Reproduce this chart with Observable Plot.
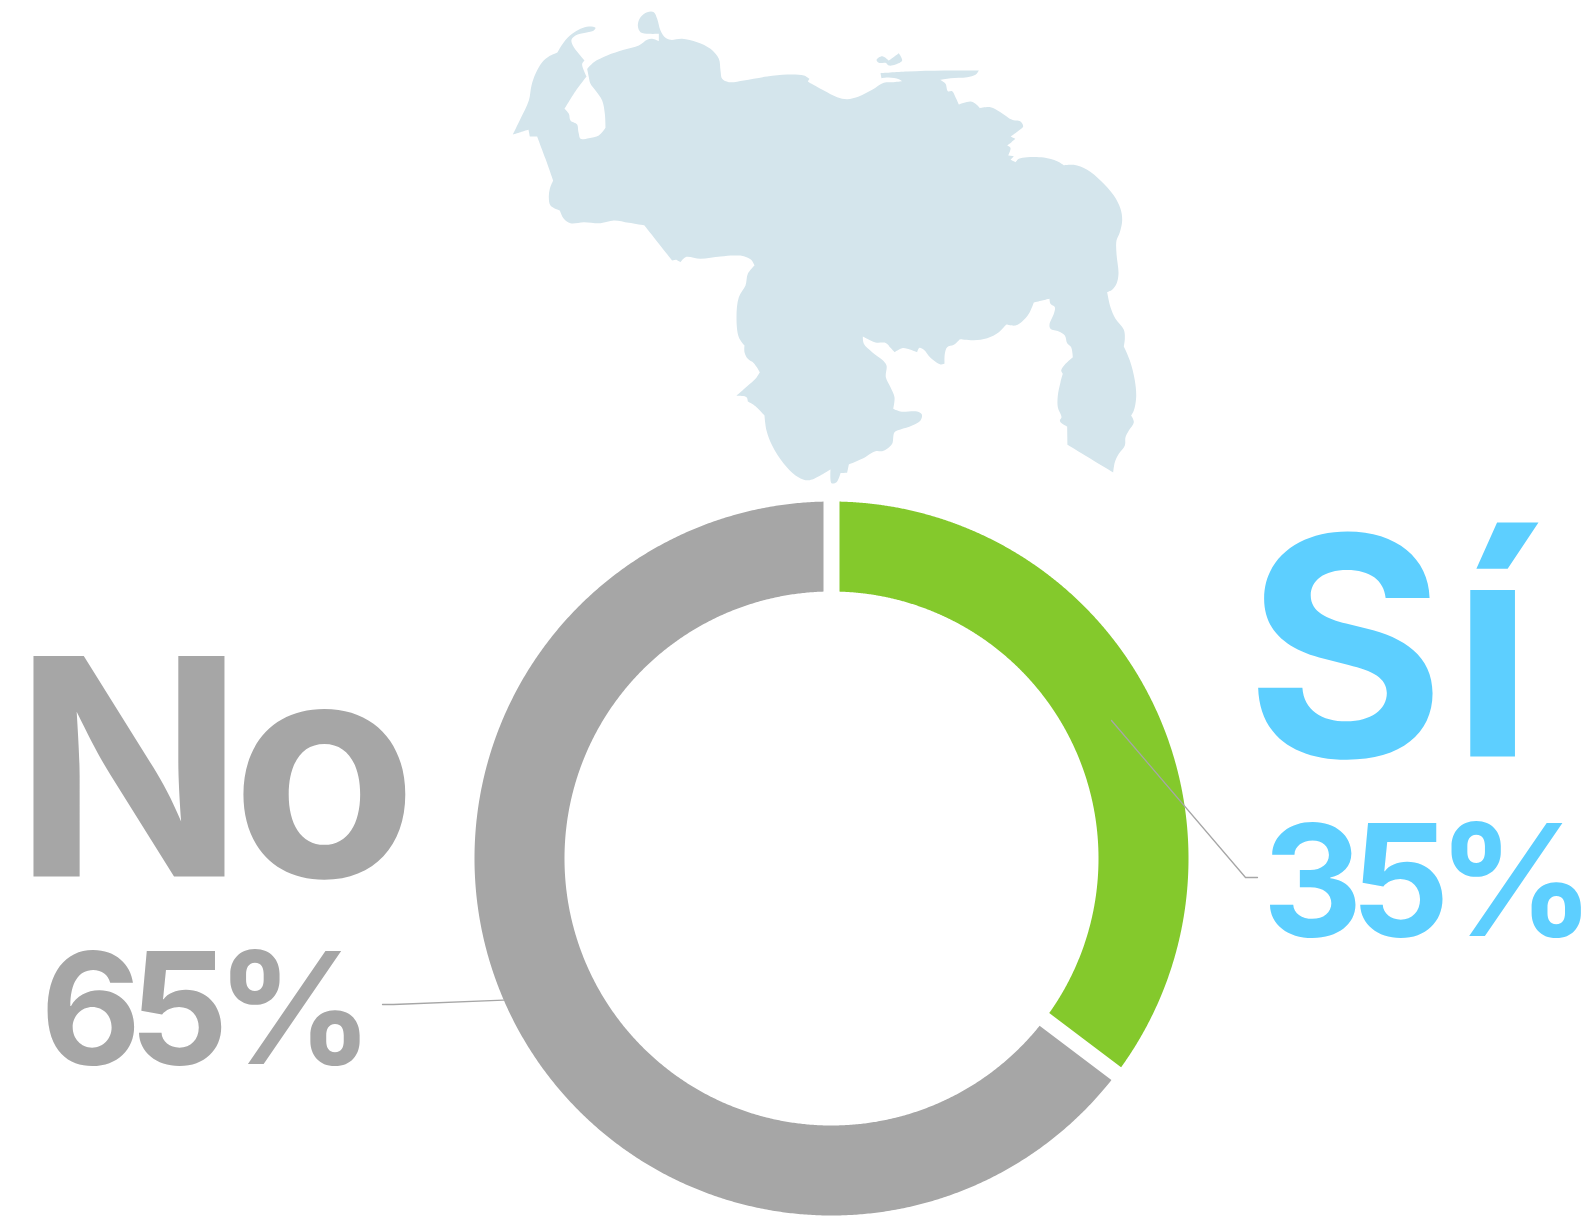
<!DOCTYPE html>
<html lang="es">
<head>
<meta charset="utf-8">
<title>Sí / No</title>
<script src="https://cdn.jsdelivr.net/npm/d3@7"></script>
<script src="https://cdn.jsdelivr.net/npm/@observablehq/plot@0.6"></script>
<style>
html,body{margin:0;padding:0;background:#fff;overflow:hidden}
svg{display:block}
.word-si{letter-spacing:6px}
.word-no{letter-spacing:-13px}
.pct{letter-spacing:-12px}
</style>
</head>
<body>
<div id="chart"></div>
<script>
// ---- Data ----
const categories = ["Sí", "No"];
const shares = [35.3, 64.7];
const shareLabels = ["35%", "65%"];
const sliceColors = ["#84c92c", "#a6a6a6"];
const labelColors = ["#5dcfff", "#a6a6a6"];

// Venezuela outline: groups of points, each with its own origin and a scale of 1/3.
// A third value of 1 marks a sharp corner.
const mapMainland = [
  {origin: [500, 0], pts: [[37,402,1],[60,355],[85,300],[93,255],[105,220],[125,185],[145,168],[170,157,1],[190,125],[215,100],[240,85],[265,78],[285,82],[280,90],[255,97],[225,105],[213,118],[217,135],[235,160],[252,180,1],[245,190],[250,210],[258,228,1],[225,272],[192,325,1],[205,340],[210,360],[230,372],[233,390],[235,400],[240,415],[265,413],[295,405],[315,382,1],[313,340],[305,300],[285,270],[270,250],[265,230],[260,205,1],[280,185],[320,165],[370,148],[415,135],[440,118],[455,115],[475,122,1],[475,100,1],[445,100],[420,95],[412,75],[420,50],[440,35],[460,35],[470,55],[480,90],[495,112],[510,118],[545,115],[590,125],[630,145],[655,175],[660,210],[665,235],[685,245],[730,240],[800,228],[860,222],[910,225],[927,235,1],[922,243,1],[950,262]]},
  {origin: [810, 30], pts: [[0,158],[40,180],[80,200],[110,206],[145,198],[185,178],[220,157],[245,155],[275,152,1],[265,146],[235,141],[213,143,1],[210,128,1],[290,123],[400,120],[505,120,1],[495,133],[470,140],[420,143],[388,148,1],[405,160],[412,182],[425,182],[435,200],[445,222,1],[480,213],[495,220],[508,233,1],[540,230],[570,245],[605,268],[630,273],[638,288],[625,300],[600,318,1],[615,325,1],[603,335],[590,345,1],[600,352],[593,375,1],[610,377,1],[600,388,1],[615,395,1],[625,385],[650,380],[700,381],[740,392],[760,404,1],[790,403],[830,418],[870,450],[910,495],[930,535],[935,570],[928,605],[918,630],[918,670],[924,730],[918,760],[905,778],[890,785,1]]},
  {origin: [720, 240], pts: [[1170,200],[1185,235],[1210,268],[1213,295],[1210,318,1],[1228,360],[1243,420],[1247,470],[1240,510],[1232,525,1],[1240,545],[1225,570],[1215,590],[1213,615],[1195,640],[1183,665],[1178,696,1],[1041,613,1],[1040,558,1],[1020,545],[1018,538,1],[1023,530],[1012,500],[1012,465],[1020,425],[1027,400,1],[1022,390],[1035,370],[1057,350,1],[1052,320],[1040,308],[1033,285],[1015,273],[990,265],[987,252],[1000,220],[1003,200],[990,190],[987,175,1],[965,180],[940,186,1],[925,220],[905,243],[885,255],[857,252,1],[835,275],[800,293],[760,299],[718,296,1],[700,313],[680,320],[673,340],[672,370,1],[660,372],[630,352],[610,328],[597,322],[590,335,1],[560,325],[545,323],[522,335,1],[510,322],[497,308],[465,306],[440,295],[427,288,1],[430,310],[455,335],[485,358],[498,375],[496,410],[510,440],[522,470],[518,505,1],[540,513],[590,513],[604,522],[600,540],[575,555],[540,567],[522,575],[515,610],[500,625],[485,632],[465,632],[425,655],[385,672,1],[380,697,1],[360,698,1],[348,725],[333,728],[330,687,1],[275,717],[255,719],[225,705],[190,670],[155,615],[138,570],[132,525,1],[105,497],[82,483,1],[78,470],[47,466,1],[80,437],[105,415],[118,395,1],[100,368],[82,355],[72,335],[72,315,1],[55,290],[48,230],[55,170],[75,135],[82,100],[102,75,1],[92,58],[70,47],[40,45]]},
  {origin: [500, 0], pts: [[660,768],[600,775],[555,770],[540,785,1],[527,778,1],[515,780,1],[432,675,1],[385,667],[340,660],[300,668],[250,665],[210,668],[190,655],[178,630,1],[150,615],[145,590],[148,565],[158,540,1],[135,475],[110,408,1],[88,408,1],[84,388,1],[60,395]]}
];
const mapIsland = [
  {origin: [810, 30], pts: [[198,88],[215,77],[235,90,1],[265,68,1],[275,90],[255,102],[235,105],[225,97],[205,97]]}
];
const leaderSi = [[1111,720],[1245,877],[1257,877]];
const leaderNo = [[382,1004],[393,1004],[503,999.7]];

// ---- Layout ----
const W = 1591, H = 1217;
const cx = 831, cy = 858, rOuter = 357, rInner = 267, halfGap = 8;

const flatten = (segs, name) => segs.flatMap(s => s.pts.flatMap(([u, v, sharp]) => {
  const p = {x: s.origin[0] + u / 3, y: s.origin[1] + v / 3, name};
  return sharp ? [p, p] : [p];
}));
const mapPoints = [...flatten(mapMainland, "mainland"), ...flatten(mapIsland, "island")];

// Ring slices from the values, with a parallel-sided gap between them
const pie = d3.pie().sort(null)(shares);
const ringPoints = pie.flatMap((a, i) => {
  const name = categories[i];
  const edge = (r, reverse) => {
    const d = Math.asin(halfGap / r);
    const a0 = a.startAngle + d, a1 = a.endAngle - d, n = 720;
    const list = d3.range(n + 1).map(k => {
      const t = a0 + (a1 - a0) * k / n;
      return {x: cx + r * Math.sin(t), y: cy - r * Math.cos(t), name};
    });
    return reverse ? list.reverse() : list;
  };
  return [...edge(rOuter, false), ...edge(rInner, true)];
});

const toPts = arr => arr.map(([x, y]) => ({x, y}));
const textMark = (text, x, y, color, fontSize, className) =>
  Plot.text([text], {x: () => x, y: () => y, text: d => d, fill: color, textAnchor: "start", lineAnchor: "bottom",
    fontFamily: "Inter", fontWeight: 700, fontSize, className});

const chart = Plot.plot({
  width: W, height: H,
  margin: 0,
  x: {domain: [0, W], range: [0, W], axis: null},
  y: {domain: [0, H], range: [0, H], axis: null},
  color: {domain: [...categories, "mainland", "island"], range: [...sliceColors, "#d4e5ec", "#d4e5ec"]},
  style: {background: "#fff"},
  marks: [
    Plot.line(mapPoints, {x: "x", y: "y", z: "name", fill: "name", stroke: "none", curve: "catmull-rom-closed"}),
    Plot.line(ringPoints, {x: "x", y: "y", z: "name", fill: "name", stroke: "none", curve: "linear-closed"}),
    Plot.line(toPts(leaderSi), {x: "x", y: "y", stroke: "#a6a6a6", strokeWidth: 1.3}),
    Plot.line(toPts(leaderNo), {x: "x", y: "y", stroke: "#a6a6a6", strokeWidth: 1.3}),
    textMark(categories[0], 1245, 756, labelColors[0], 305, "word-si"),
    textMark(categories[1], 13, 876, labelColors[1], 303, "word-no"),
    textMark(shareLabels[0], 1262, 935, labelColors[0], 155, "pct"),
    textMark(shareLabels[1], 40, 1063, labelColors[1], 155, "pct")
  ]
});
document.getElementById("chart").append(chart);
</script>
</body>
</html>
